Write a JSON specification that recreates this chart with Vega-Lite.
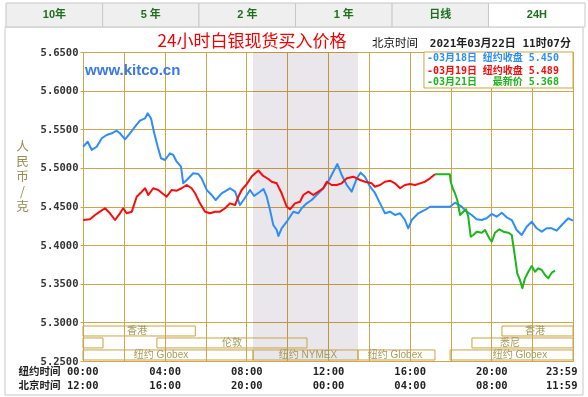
{
  "$schema": "https://vega.github.io/schema/vega-lite/v6.json",
  "width": 490,
  "height": 309,
  "autosize": {"type": "none"},
  "padding": {"left": 83, "top": 52, "right": 15, "bottom": 36},
  "background": "white",
  "config": {"view": {"stroke": "#cfa54a", "strokeWidth": 1}},
  "datasets": {
    "prices": [
      {"s":"03月18日","h":0.01,"v":5.5274},{"s":"03月18日","h":0.23,"v":5.5339},{"s":"03月18日","h":0.43,"v":5.5232},{"s":"03月18日","h":0.67,"v":5.5274},
      {"s":"03月18日","h":0.92,"v":5.5383},{"s":"03月18日","h":1.16,"v":5.5426},{"s":"03月18日","h":1.41,"v":5.5448},{"s":"03月18日","h":1.65,"v":5.5481},
      {"s":"03月18日","h":1.81,"v":5.5448},{"s":"03月18日","h":2.06,"v":5.537},{"s":"03月18日","h":2.3,"v":5.5448},{"s":"03月18日","h":2.55,"v":5.5533},
      {"s":"03月18日","h":2.79,"v":5.5611},{"s":"03月18日","h":3.04,"v":5.5642},{"s":"03月18日","h":3.17,"v":5.5706},{"s":"03月18日","h":3.33,"v":5.5642},
      {"s":"03月18日","h":3.49,"v":5.5448},{"s":"03月18日","h":3.66,"v":5.5274},{"s":"03月18日","h":3.82,"v":5.5124},{"s":"03月18日","h":4.02,"v":5.5102},
      {"s":"03月18日","h":4.26,"v":5.5189},{"s":"03月18日","h":4.42,"v":5.5167},{"s":"03月18日","h":4.59,"v":5.508},{"s":"03月18日","h":4.8,"v":5.5015},
      {"s":"03月18日","h":4.91,"v":5.48},{"s":"03月18日","h":5.08,"v":5.4843},{"s":"03月18日","h":5.4,"v":5.493},{"s":"03月18日","h":5.65,"v":5.4921},
      {"s":"03月18日","h":5.81,"v":5.4865},{"s":"03月18日","h":6.06,"v":5.4714},{"s":"03月18日","h":6.3,"v":5.4649},{"s":"03月18日","h":6.5,"v":5.4584},
      {"s":"03月18日","h":6.79,"v":5.4671},{"s":"03月18日","h":7.2,"v":5.4736},{"s":"03月18日","h":7.45,"v":5.4692},{"s":"03月18日","h":7.69,"v":5.4519},
      {"s":"03月18日","h":7.93,"v":5.461},{"s":"03月18日","h":8.18,"v":5.4714},{"s":"03月18日","h":8.38,"v":5.4636},{"s":"03月18日","h":8.62,"v":5.4681},
      {"s":"03月18日","h":8.84,"v":5.4727},{"s":"03月18日","h":9.0,"v":5.4627},{"s":"03月18日","h":9.16,"v":5.4455},{"s":"03月18日","h":9.32,"v":5.4261},
      {"s":"03月18日","h":9.49,"v":5.4196},{"s":"03月18日","h":9.57,"v":5.4118},{"s":"03月18日","h":9.73,"v":5.4218},{"s":"03月18日","h":9.98,"v":5.4303},
      {"s":"03月18日","h":10.14,"v":5.4368},{"s":"03月18日","h":10.3,"v":5.4433},{"s":"03月18日","h":10.55,"v":5.4412},{"s":"03月18日","h":10.71,"v":5.4477},
      {"s":"03月18日","h":10.96,"v":5.4541},{"s":"03月18日","h":11.2,"v":5.4584},{"s":"03月18日","h":11.53,"v":5.4671},{"s":"03月18日","h":11.77,"v":5.4736},
      {"s":"03月18日","h":12.01,"v":5.4821},{"s":"03月18日","h":12.26,"v":5.495},{"s":"03月18日","h":12.46,"v":5.505},{"s":"03月18日","h":12.67,"v":5.4908},
      {"s":"03月18日","h":12.92,"v":5.4778},{"s":"03月18日","h":13.16,"v":5.4692},{"s":"03月18日","h":13.41,"v":5.4865},{"s":"03月18日","h":13.6,"v":5.4938},
      {"s":"03月18日","h":13.81,"v":5.4886},{"s":"03月18日","h":14.06,"v":5.4756},{"s":"03月18日","h":14.3,"v":5.4675},{"s":"03月18日","h":14.55,"v":5.4541},
      {"s":"03月18日","h":14.79,"v":5.4412},{"s":"03月18日","h":15.04,"v":5.4433},{"s":"03月18日","h":15.28,"v":5.439},{"s":"03月18日","h":15.53,"v":5.4412},
      {"s":"03月18日","h":15.77,"v":5.4325},{"s":"03月18日","h":15.93,"v":5.4218},{"s":"03月18日","h":16.1,"v":5.4325},{"s":"03月18日","h":16.42,"v":5.4412},
      {"s":"03月18日","h":16.75,"v":5.4455},{"s":"03月18日","h":17.0,"v":5.4497},{"s":"03月18日","h":17.98,"v":5.4497},{"s":"03月18日","h":18.22,"v":5.4549},
      {"s":"03月18日","h":18.55,"v":5.4497},{"s":"03月18日","h":18.79,"v":5.4433},{"s":"03月18日","h":19.04,"v":5.439},{"s":"03月18日","h":19.28,"v":5.4334},
      {"s":"03月18日","h":19.53,"v":5.4325},{"s":"03月18日","h":19.77,"v":5.4347},{"s":"03月18日","h":20.02,"v":5.4403},{"s":"03月18日","h":20.26,"v":5.4368},
      {"s":"03月18日","h":20.51,"v":5.442},{"s":"03月18日","h":20.75,"v":5.436},{"s":"03月18日","h":21.0,"v":5.4325},{"s":"03月18日","h":21.24,"v":5.4196},
      {"s":"03月18日","h":21.49,"v":5.4131},{"s":"03月18日","h":21.73,"v":5.4239},{"s":"03月18日","h":21.98,"v":5.4303},{"s":"03月18日","h":22.22,"v":5.4218},
      {"s":"03月18日","h":22.47,"v":5.4174},{"s":"03月18日","h":22.71,"v":5.4218},{"s":"03月18日","h":22.96,"v":5.4218},{"s":"03月18日","h":23.2,"v":5.4187},
      {"s":"03月18日","h":23.45,"v":5.4261},{"s":"03月18日","h":23.77,"v":5.4347},{"s":"03月18日","h":24.0,"v":5.4316},
      {"s":"03月19日","h":0.01,"v":5.4325},{"s":"03月19日","h":0.34,"v":5.4334},{"s":"03月19日","h":0.59,"v":5.439},{"s":"03月19日","h":0.83,"v":5.4433},
      {"s":"03月19日","h":1.08,"v":5.4477},{"s":"03月19日","h":1.32,"v":5.4412},{"s":"03月19日","h":1.57,"v":5.4325},{"s":"03月19日","h":1.81,"v":5.4412},
      {"s":"03月19日","h":1.97,"v":5.4477},{"s":"03月19日","h":2.14,"v":5.4412},{"s":"03月19日","h":2.39,"v":5.4433},{"s":"03月19日","h":2.63,"v":5.4627},
      {"s":"03月19日","h":2.88,"v":5.4692},{"s":"03月19日","h":3.04,"v":5.4736},{"s":"03月19日","h":3.2,"v":5.4649},{"s":"03月19日","h":3.44,"v":5.4736},
      {"s":"03月19日","h":3.69,"v":5.4714},{"s":"03月19日","h":3.88,"v":5.4671},{"s":"03月19日","h":4.1,"v":5.4627},{"s":"03月19日","h":4.34,"v":5.4714},
      {"s":"03月19日","h":4.59,"v":5.4705},{"s":"03月19日","h":4.83,"v":5.4736},{"s":"03月19日","h":5.08,"v":5.4778},{"s":"03月19日","h":5.32,"v":5.4736},
      {"s":"03月19日","h":5.49,"v":5.4671},{"s":"03月19日","h":5.73,"v":5.4541},{"s":"03月19日","h":5.98,"v":5.4433},{"s":"03月19日","h":6.22,"v":5.4412},
      {"s":"03月19日","h":6.47,"v":5.4433},{"s":"03月19日","h":6.71,"v":5.4433},{"s":"03月19日","h":6.96,"v":5.4477},{"s":"03月19日","h":7.2,"v":5.4541},
      {"s":"03月19日","h":7.45,"v":5.4519},{"s":"03月19日","h":7.61,"v":5.4627},{"s":"03月19日","h":7.77,"v":5.4714},{"s":"03月19日","h":8.02,"v":5.479},
      {"s":"03月19日","h":8.26,"v":5.4888},{"s":"03月19日","h":8.59,"v":5.4966},{"s":"03月19日","h":8.83,"v":5.4895},{"s":"03月19日","h":9.08,"v":5.4856},
      {"s":"03月19日","h":9.24,"v":5.4821},{"s":"03月19日","h":9.49,"v":5.48},{"s":"03月19日","h":9.73,"v":5.4671},{"s":"03月19日","h":9.98,"v":5.4497},
      {"s":"03月19日","h":10.14,"v":5.4464},{"s":"03月19日","h":10.38,"v":5.4541},{"s":"03月19日","h":10.63,"v":5.4562},{"s":"03月19日","h":10.79,"v":5.4649},
      {"s":"03月19日","h":11.04,"v":5.4692},{"s":"03月19日","h":11.28,"v":5.4649},{"s":"03月19日","h":11.53,"v":5.4692},{"s":"03月19日","h":11.77,"v":5.4736},
      {"s":"03月19日","h":11.94,"v":5.4821},{"s":"03月19日","h":12.18,"v":5.4778},{"s":"03月19日","h":12.43,"v":5.4778},{"s":"03月19日","h":12.67,"v":5.48},
      {"s":"03月19日","h":12.92,"v":5.4865},{"s":"03月19日","h":13.24,"v":5.4886},{"s":"03月19日","h":13.57,"v":5.4843},{"s":"03月19日","h":13.81,"v":5.4821},
      {"s":"03月19日","h":14.14,"v":5.48},{"s":"03月19日","h":14.3,"v":5.4756},{"s":"03月19日","h":14.55,"v":5.4778},{"s":"03月19日","h":14.79,"v":5.4821},
      {"s":"03月19日","h":15.04,"v":5.4834},{"s":"03月19日","h":15.28,"v":5.48},{"s":"03月19日","h":15.53,"v":5.4736},{"s":"03月19日","h":15.77,"v":5.4778},
      {"s":"03月19日","h":16.02,"v":5.4791},{"s":"03月19日","h":16.26,"v":5.4778},{"s":"03月19日","h":16.51,"v":5.48},{"s":"03月19日","h":16.75,"v":5.4821},
      {"s":"03月19日","h":17.0,"v":5.4865},{"s":"03月19日","h":17.24,"v":5.4917},
      {"s":"03月21日","h":17.24,"v":5.4917},{"s":"03月21日","h":17.97,"v":5.4917},{"s":"03月21日","h":18.01,"v":5.4821},{"s":"03月21日","h":18.11,"v":5.4736},
      {"s":"03月21日","h":18.22,"v":5.4671},{"s":"03月21日","h":18.33,"v":5.4584},{"s":"03月21日","h":18.47,"v":5.439},{"s":"03月21日","h":18.63,"v":5.4433},
      {"s":"03月21日","h":18.76,"v":5.4464},{"s":"03月21日","h":18.87,"v":5.4368},{"s":"03月21日","h":18.99,"v":5.4109},{"s":"03月21日","h":19.12,"v":5.4131},
      {"s":"03月21日","h":19.28,"v":5.4174},{"s":"03月21日","h":19.53,"v":5.4161},{"s":"03月21日","h":19.69,"v":5.4196},{"s":"03月21日","h":19.9,"v":5.4088},
      {"s":"03月21日","h":20.02,"v":5.4044},{"s":"03月21日","h":20.18,"v":5.4161},{"s":"03月21日","h":20.39,"v":5.4205},{"s":"03月21日","h":20.59,"v":5.4174},
      {"s":"03月21日","h":20.83,"v":5.4161},{"s":"03月21日","h":21.0,"v":5.4131},{"s":"03月21日","h":21.11,"v":5.3937},{"s":"03月21日","h":21.27,"v":5.3635},
      {"s":"03月21日","h":21.4,"v":5.3549},{"s":"03月21日","h":21.52,"v":5.3441},{"s":"03月21日","h":21.65,"v":5.357},{"s":"03月21日","h":21.81,"v":5.3656},
      {"s":"03月21日","h":21.98,"v":5.373},{"s":"03月21日","h":22.14,"v":5.3656},{"s":"03月21日","h":22.3,"v":5.37},{"s":"03月21日","h":22.47,"v":5.3678},
      {"s":"03月21日","h":22.63,"v":5.3613},{"s":"03月21日","h":22.79,"v":5.357},{"s":"03月21日","h":22.96,"v":5.3643},{"s":"03月21日","h":23.12,"v":5.3669}
    ],
    "sessions": [
      {"n":"香港","a":0,"b":5.5,"lo":5.2824,"hi":5.2953,"m":2.65,"lv":5.2889},
      {"n":"香港","a":20.52,"b":24,"lo":5.2824,"hi":5.2953,"m":22.14,"lv":5.2889},
      {"n":"","a":0,"b":0.98,"lo":5.2669,"hi":5.2798,"m":0.5,"lv":5.2734},
      {"n":"伦敦","a":3.62,"b":10.97,"lo":5.2669,"hi":5.2798,"m":7.3,"lv":5.2734},
      {"n":"悉尼","a":19.05,"b":24,"lo":5.2669,"hi":5.2798,"m":20.91,"lv":5.2734},
      {"n":"纽约 Globex","a":0,"b":8.33,"lo":5.2513,"hi":5.2643,"m":3.82,"lv":5.2579},
      {"n":"纽约 NYMEX","a":8.33,"b":13.47,"lo":5.2513,"hi":5.2643,"m":11.02,"lv":5.2579},
      {"n":"纽约 Globex","a":13.47,"b":17.24,"lo":5.2513,"hi":5.2643,"m":15.28,"lv":5.2579},
      {"n":"纽约 Globex","a":17.98,"b":24,"lo":5.2513,"hi":5.2643,"m":21.4,"lv":5.2579}
    ],
    "legend": [
      {"s":"03月18日","d":"-03月18日","t":"纽约收盘 5.450","v":5.6422},
      {"s":"03月19日","d":"-03月19日","t":"纽约收盘 5.489","v":5.6258},
      {"s":"03月21日","d":"-03月21日","t":"最新价 5.368","v":5.6108}
    ],
    "tabs": [
      {"tab":"10年","on":"n","a":-3.77,"b":0.96,"m":-1.4},
      {"tab":"5 年","on":"n","a":0.96,"b":5.68,"m":3.32},
      {"tab":"2 年","on":"n","a":5.68,"b":10.41,"m":8.05},
      {"tab":"1 年","on":"n","a":10.41,"b":15.14,"m":12.77},
      {"tab":"日线","on":"n","a":15.14,"b":19.86,"m":17.5},
      {"tab":"24H","on":"y","a":19.86,"b":24.59,"m":22.23}
    ]
  },
  "layer": [
    {
      "data": {"name":"prices"},
      "mark": {"type":"line","strokeJoin":"round","opacity":0},
      "encoding": {
        "x": {"field":"h","type":"quantitative","scale":{"domain":[0,24],"nice":false},
          "axis": {
            "values":[0,2,4,6,8,10,12,14,16,18,20,22,24],"tickCount":14,
            "grid":true,"gridColor":"#cfa54a","gridOpacity":1,"domain":false,"ticks":false,
            "labelFlush":false,"labelOverlap":false,"labelBound":false,
            "labelExpr":"datum.value % 4 ? '' : [['纽约时间 00:00','北京时间 12:00'],['04:00','16:00'],['08:00','20:00'],['12:00','00:00'],['16:00','04:00'],['20:00','08:00'],['23:59','11:59']][datum.value / 4]",
            "labelAlign":{"condition":{"test":"datum.value == 0 || datum.value == 24","value":"right"},"value":"center"},
            "labelOffset":{"condition":[{"test":"datum.value == 0","value":15},{"test":"datum.value == 24","value":4}],"value":0},
            "labelPadding":5,"labelLineHeight":14,
            "labelFont":"DejaVu Sans Mono, Noto Sans CJK SC","labelFontWeight":"bold","labelFontSize":10.5,"labelColor":"#222222",
            "title":null
          }
        },
        "y": {"field":"v","type":"quantitative","scale":{"domain":[5.25,5.65],"nice":false,"zero":false},
          "axis": {
            "values":[5.25,5.3,5.35,5.4,5.45,5.5,5.55,5.6,5.65],"tickCount":10,
            "format":".4f","grid":true,"gridColor":"#cfa54a","gridOpacity":1,"domain":false,
            "labelOverlap":false,"labelBound":false,
            "tickColor":"#cfa54a","tickSize":3,"labelPadding":2,
            "labelFont":"DejaVu Sans Mono","labelFontWeight":"bold","labelFontSize":10.5,"labelColor":"#333333",
            "title":["人","民","币","/","克"],"titleAngle":0,"titleX":-61,"titleY":88,
            "titleAlign":"center","titleBaseline":"top","titleFontSize":12.5,"titleFontWeight":"normal",
            "titleColor":"#948a4e","titleFont":"Noto Sans CJK SC","titleLineHeight":15
          }
        }
      }
    },
    {
      "data": {"values": [{"a":-3.82,"b":24.49,"lo":5.206,"hi":5.6824}]},
      "mark": {"type":"rect","filled":false,"color":"#c8c8c8","strokeWidth":1},
      "encoding": {
        "x": {"field":"a","type":"quantitative","scale":{"domain":[0,24],"nice":false}},
        "x2": {"field":"b"},
        "y": {"field":"hi","type":"quantitative","scale":{"domain":[5.25,5.65],"nice":false,"zero":false}},
        "y2": {"field":"lo"}
      }
    },
    {
      "data": {"name":"tabs"},
      "mark": {"type":"rect","stroke":"#c8c8c8","strokeWidth":1},
      "encoding": {
        "x": {"field":"a","type":"quantitative","scale":{"domain":[0,24],"nice":false}},
        "x2": {"field":"b"},
        "y": {"datum":5.7134,"type":"quantitative","scale":{"domain":[5.25,5.65],"nice":false,"zero":false}},
        "y2": {"datum":5.6824},
        "fill": {"field":"on","type":"nominal","scale":{"domain":["n","y"],"range":["#efefef","#ffffff"]},"legend":null}
      }
    },
    {
      "data": {"name":"tabs"},
      "mark": {"type":"text","fontWeight":"bold","fontSize":11,"color":"#1d6e1d","font":"Liberation Sans, Noto Sans CJK SC","baseline":"middle"},
      "encoding": {
        "x": {"field":"m","type":"quantitative","scale":{"domain":[0,24],"nice":false}},
        "y": {"datum":5.6979,"type":"quantitative","scale":{"domain":[5.25,5.65],"nice":false,"zero":false}},
        "text": {"field":"tab"}
      }
    },
    {
      "data": {"values": [{"a":8.33,"b":13.47}]},
      "mark": {"type":"rect","fill":"#e9e7eb","blend":"multiply"},
      "encoding": {
        "x": {"field":"a","type":"quantitative","scale":{"domain":[0,24],"nice":false}},
        "x2": {"field":"b"},
        "y": {"datum":5.65,"type":"quantitative","scale":{"domain":[5.25,5.65],"nice":false,"zero":false}},
        "y2": {"datum":5.25}
      }
    },
    {
      "data": {"name":"sessions"},
      "mark": {"type":"rect","filled":false,"color":"#c9a445","strokeWidth":1},
      "encoding": {
        "x": {"field":"a","type":"quantitative","scale":{"domain":[0,24],"nice":false}},
        "x2": {"field":"b"},
        "y": {"field":"hi","type":"quantitative","scale":{"domain":[5.25,5.65],"nice":false,"zero":false}},
        "y2": {"field":"lo"}
      }
    },
    {
      "data": {"name":"sessions"},
      "mark": {"type":"text","fontSize":10,"color":"#a59a5c","font":"Liberation Sans, Noto Sans CJK SC","baseline":"middle"},
      "encoding": {
        "x": {"field":"m","type":"quantitative","scale":{"domain":[0,24],"nice":false}},
        "y": {"field":"lv","type":"quantitative","scale":{"domain":[5.25,5.65],"nice":false,"zero":false}},
        "text": {"field":"n"}
      }
    },
    {
      "data": {"name":"prices"},
      "mark": {"type":"line","strokeJoin":"round"},
      "encoding": {
        "x": {"field":"h","type":"quantitative","scale":{"domain":[0,24],"nice":false}},
        "y": {"field":"v","type":"quantitative","scale":{"domain":[5.25,5.65],"nice":false,"zero":false}},
        "color": {"field":"s","type":"nominal","scale":{"domain":["03月18日","03月19日","03月21日"],"range":["#2e8ef5","#f80c0c","#1cb51c"]},"legend":null},
        "strokeWidth": {"field":"s","type":"nominal","scale":{"domain":["03月18日","03月19日","03月21日"],"range":[2,2,1.5]},"legend":null}
      }
    },
    {
      "data": {"values": [{"a":16.7,"b":24,"lo":5.6034,"hi":5.65}]},
      "mark": {"type":"rect","fill":"#ffffff","stroke":"#cfa54a","strokeWidth":1},
      "encoding": {
        "x": {"field":"a","type":"quantitative","scale":{"domain":[0,24],"nice":false}},
        "x2": {"field":"b"},
        "y": {"field":"hi","type":"quantitative","scale":{"domain":[5.25,5.65],"nice":false,"zero":false}},
        "y2": {"field":"lo"}
      }
    },
    {
      "data": {"name":"legend"},
      "mark": {"type":"text","align":"left","baseline":"middle","fontSize":10,"fontWeight":"bold","font":"DejaVu Sans Mono, Noto Sans CJK SC"},
      "encoding": {
        "x": {"datum":16.85,"type":"quantitative","scale":{"domain":[0,24],"nice":false}},
        "y": {"field":"v","type":"quantitative","scale":{"domain":[5.25,5.65],"nice":false,"zero":false}},
        "text": {"field":"d"},
        "color": {"field":"s","type":"nominal","scale":{"domain":["03月18日","03月19日","03月21日"],"range":["#2e8ef5","#f80c0c","#1cb51c"]},"legend":null}
      }
    },
    {
      "data": {"name":"legend"},
      "mark": {"type":"text","align":"right","baseline":"middle","fontSize":10,"fontWeight":"bold","font":"DejaVu Sans Mono, Noto Sans CJK SC"},
      "encoding": {
        "x": {"datum":23.31,"type":"quantitative","scale":{"domain":[0,24],"nice":false}},
        "y": {"field":"v","type":"quantitative","scale":{"domain":[5.25,5.65],"nice":false,"zero":false}},
        "text": {"field":"t"},
        "color": {"field":"s","type":"nominal","scale":{"domain":["03月18日","03月19日","03月21日"],"range":["#2e8ef5","#f80c0c","#1cb51c"]},"legend":null}
      }
    },
    {
      "data": {"values": [{"t":"24小时白银现货买入价格","h":8.28,"v":5.6623}]},
      "mark": {"type":"text","align":"center","baseline":"middle","fontSize":17,"color":"#f00000","font":"Noto Sans CJK SC"},
      "encoding": {
        "x": {"field":"h","type":"quantitative","scale":{"domain":[0,24],"nice":false}},
        "y": {"field":"v","type":"quantitative","scale":{"domain":[5.25,5.65],"nice":false,"zero":false}},
        "text": {"field":"t"}
      }
    },
    {
      "data": {"values": [{"t":"北京时间","h":14.16,"v":5.6604}]},
      "mark": {"type":"text","align":"left","baseline":"middle","fontSize":11.5,"color":"#111111","font":"Noto Sans CJK SC"},
      "encoding": {
        "x": {"field":"h","type":"quantitative","scale":{"domain":[0,24],"nice":false}},
        "y": {"field":"v","type":"quantitative","scale":{"domain":[5.25,5.65],"nice":false,"zero":false}},
        "text": {"field":"t"}
      }
    },
    {
      "data": {"values": [{"t":"2021年03月22日 11时07分","h":23.9,"v":5.6604}]},
      "mark": {"type":"text","align":"right","baseline":"middle","fontSize":11,"fontWeight":"bold","color":"#222222","font":"DejaVu Sans Mono, Noto Sans CJK SC"},
      "encoding": {
        "x": {"field":"h","type":"quantitative","scale":{"domain":[0,24],"nice":false}},
        "y": {"field":"v","type":"quantitative","scale":{"domain":[5.25,5.65],"nice":false,"zero":false}},
        "text": {"field":"t"}
      }
    },
    {
      "data": {"values": [{"t":"www.kitco.cn","h":0.1,"v":5.6267}]},
      "mark": {"type":"text","align":"left","baseline":"middle","fontSize":15,"fontWeight":"bold","color":"#3a78e6","font":"Liberation Sans"},
      "encoding": {
        "x": {"field":"h","type":"quantitative","scale":{"domain":[0,24],"nice":false}},
        "y": {"field":"v","type":"quantitative","scale":{"domain":[5.25,5.65],"nice":false,"zero":false}},
        "text": {"field":"t"}
      }
    }
  ]
}
